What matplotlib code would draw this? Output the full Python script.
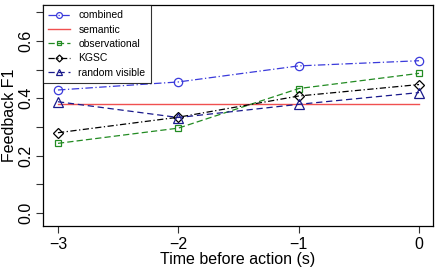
import numpy as np
import matplotlib.pyplot as plt

plt.rcParams['font.family'] = ['Liberation Sans', 'DejaVu Sans']

# Data
times = [-3, -2, -1, 0]
combined = [0.429, 0.457, 0.513, 0.531]
semantic = [0.380, 0.380, 0.380, 0.380]
observational = [0.243, 0.296, 0.434, 0.487]
kgsc = [0.280, 0.334, 0.408, 0.448]
random_visible = [0.388, 0.333, 0.379, 0.420]

xticks = [-3, -2, -1, 0]
yticks = [0.0, 0.2, 0.4, 0.6]
yminor = [0.1, 0.3, 0.5, 0.7]

fig = plt.figure(figsize=(4.38, 2.68), dpi=100)
ax = fig.add_axes([0.098, 0.157, 0.8906, 0.824])

ax.plot(times, combined, color='#3a3adb', ls=(0, (6, 2, 1, 2)), lw=0.9,
        marker='o', mfc='none', ms=6, mew=0.9, label='combined')
ax.plot(times, semantic, color='#f05050', ls='-', lw=1.0, label='semantic')
ax.plot(times, observational, color='#228b22', ls=(0, (5, 2.5)), lw=0.9,
        marker='s', mfc='none', ms=5, mew=0.9, label='observational')
ax.plot(times, kgsc, color='black', ls=(0, (5, 2, 1, 2)), lw=0.9,
        marker='D', mfc='none', ms=5, mew=0.9, label='KGSC')
ax.plot(times, random_visible, color='#1a1a8c', ls=(0, (5, 3)), lw=0.9,
        marker='^', mfc='none', ms=7, mew=0.9, label='random visible')

ax.set_xlim(-3.125, 0.116)
ax.set_ylim(-0.045, 0.725)
ax.set_xticks(xticks)
ax.set_xticklabels(['\u22123', '\u22122', '\u22121', '0'])
ax.set_yticks(yticks)
ax.set_yticks(yminor, minor=True)
ax.set_yticklabels(['0.0', '0.2', '0.4', '0.6'], rotation=90, va='center')
ax.tick_params(axis='both', which='both', direction='out', length=5, width=0.8,
               labelsize=11.5, color='#333333')
ax.tick_params(axis='y', which='minor', length=5)
ax.tick_params(axis='x', pad=3)
ax.tick_params(axis='y', pad=2)
for s in ax.spines.values():
    s.set_linewidth(0.9)

ax.set_xlabel('Time before action (s)', fontsize=11.5, labelpad=0)
ax.set_ylabel('Feedback F1', fontsize=11.5, labelpad=1)

leg = ax.legend(loc='upper left', fontsize=7.5, frameon=True, fancybox=False,
                edgecolor='black', borderaxespad=0, handlelength=2.1,
                labelspacing=0.42, borderpad=0.5, handletextpad=0.8,
                markerscale=0.7)
leg.get_frame().set_linewidth(0.8)

fig.savefig('out.png', dpi=100)
